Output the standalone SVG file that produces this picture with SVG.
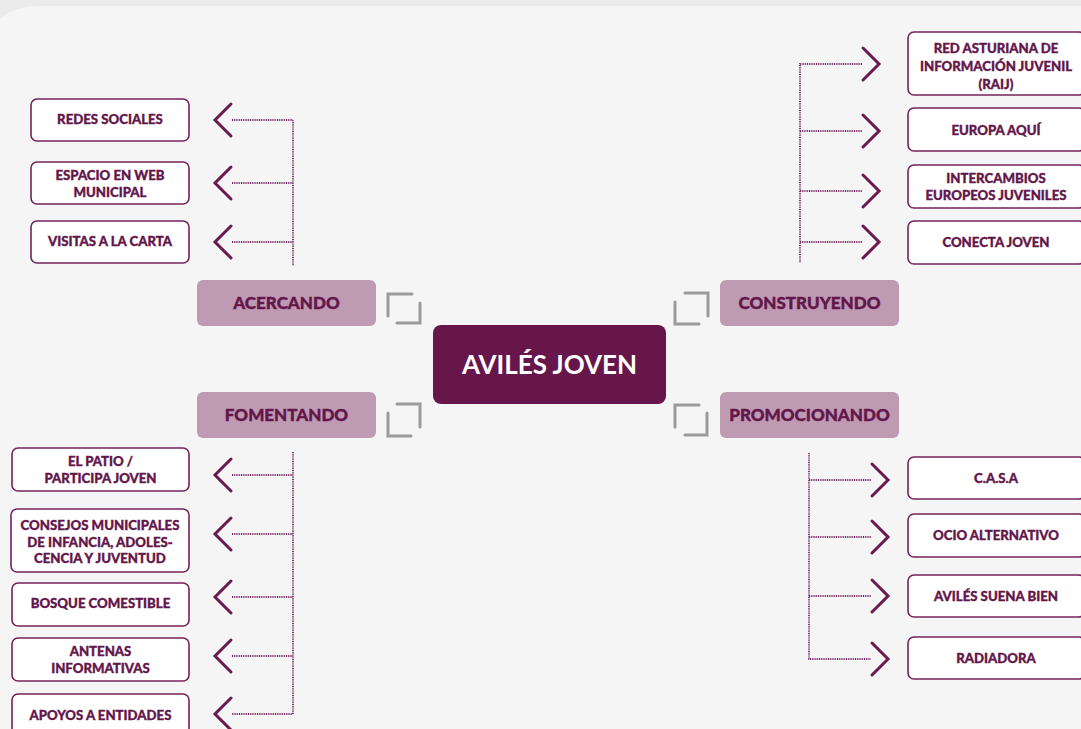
<svg xmlns="http://www.w3.org/2000/svg" width="1081" height="729" viewBox="0 0 1081 729">
<style>
.box{fill:#ffffff;stroke:#74245a;stroke-width:1.6}
.cat{fill:#bf9bb3}
.t{font-family:Lato,"Open Sans","Liberation Sans",sans-serif;font-weight:900;font-size:13.2px;fill:#63164a;stroke:#63164a;stroke-width:0.35;text-anchor:middle}
.ct{font-family:Lato,"Open Sans","Liberation Sans",sans-serif;font-weight:900;font-size:17px;fill:#63164a;stroke:#63164a;stroke-width:0.4;text-anchor:middle}
.mt{font-family:Lato,"Open Sans","Liberation Sans",sans-serif;font-weight:700;font-size:26px;fill:#ffffff;text-anchor:middle}
.chev{fill:none;stroke:#6a1a4f;stroke-width:3;stroke-linecap:round;stroke-linejoin:miter}
.dot{fill:none;stroke:#7a2e66;stroke-width:1.8;stroke-dasharray:1 0.8}
.br{fill:none;stroke:#9b9b9b;stroke-width:3;stroke-linecap:round}
</style>
<rect x="0" y="0" width="1081" height="729" fill="#ebebeb"/>
<rect x="-25" y="6" width="1200" height="800" rx="62" fill="#f5f5f5"/>

<g id="connectors">
  <polyline class="dot" points="232,120 293,120 293,266"/>
  <line class="dot" x1="232" y1="183" x2="293" y2="183"/>
  <line class="dot" x1="232" y1="242" x2="293" y2="242"/>
  <polyline class="chev" points="231,104 215,120 231,136"/>
  <polyline class="chev" points="231,167 215,183 231,199"/>
  <polyline class="chev" points="231,226 215,242 231,258"/>
  <polyline class="dot" points="293,452 293,714 232,714"/>
  <line class="dot" x1="232" y1="475" x2="293" y2="475"/>
  <line class="dot" x1="232" y1="534" x2="293" y2="534"/>
  <line class="dot" x1="232" y1="597" x2="293" y2="597"/>
  <line class="dot" x1="232" y1="656" x2="293" y2="656"/>
  <polyline class="chev" points="231,459 215,475 231,491"/>
  <polyline class="chev" points="231,518 215,534 231,550"/>
  <polyline class="chev" points="231,581 215,597 231,613"/>
  <polyline class="chev" points="231,640 215,656 231,672"/>
  <polyline class="chev" points="231,698 215,714 231,730"/>
  <polyline class="dot" points="862,64 800,64 800,263"/>
  <line class="dot" x1="800" y1="131" x2="862" y2="131"/>
  <line class="dot" x1="800" y1="191" x2="862" y2="191"/>
  <line class="dot" x1="800" y1="242" x2="862" y2="242"/>
  <polyline class="chev" points="863,48 879,64 863,80"/>
  <polyline class="chev" points="863,115 879,131 863,147"/>
  <polyline class="chev" points="863,175 879,191 863,207"/>
  <polyline class="chev" points="863,226 879,242 863,258"/>
  <polyline class="dot" points="809,453 809,659 871,659"/>
  <line class="dot" x1="809" y1="480" x2="871" y2="480"/>
  <line class="dot" x1="809" y1="537" x2="871" y2="537"/>
  <line class="dot" x1="809" y1="596" x2="871" y2="596"/>
  <polyline class="chev" points="872,464 888,480 872,496"/>
  <polyline class="chev" points="872,521 888,537 872,553"/>
  <polyline class="chev" points="872,580 888,596 872,612"/>
  <polyline class="chev" points="872,643 888,659 872,675"/>
  <path class="br" d="M388,316 V294 H412 M420,303 V323 H397"/>
  <path class="br" d="M397,404 H420 V427 M388,413 V436 H411"/>
  <path class="br" d="M685,293 H708 V316 M675,302 V324 H699"/>
  <path class="br" d="M675,427 V405 H699 M707,413 V435 H685"/>
</g>

<g id="center">
  <rect x="433" y="325" width="233" height="79" rx="8" fill="#66164a"/>
  <text class="mt" x="549.5" y="374">AVILÉS JOVEN</text>
</g>

<g id="acercando"><rect class="cat" x="197" y="280" width="179" height="46" rx="6"/><text class="ct" x="286.5" y="309">ACERCANDO</text></g>
<g id="fomentando"><rect class="cat" x="197" y="392" width="179" height="46" rx="6"/><text class="ct" x="286.5" y="421">FOMENTANDO</text></g>
<g id="construyendo"><rect class="cat" x="720" y="280" width="179" height="46" rx="6"/><text class="ct" x="809.5" y="309">CONSTRUYENDO</text></g>
<g id="promocionando"><rect class="cat" x="720" y="392" width="179" height="46" rx="6"/><text class="ct" x="809.5" y="421">PROMOCIONANDO</text></g>

<g id="redes-sociales"><rect class="box" x="31" y="99" width="158" height="42" rx="6"/><text class="t" x="110" y="124">REDES SOCIALES</text></g>
<g id="espacio-web"><rect class="box" x="31" y="162" width="158" height="42" rx="6"/><text class="t" x="110" y="180">ESPACIO EN WEB</text><text class="t" x="110" y="197">MUNICIPAL</text></g>
<g id="visitas"><rect class="box" x="31" y="221" width="158" height="42" rx="6"/><text class="t" x="110" y="246">VISITAS A LA CARTA</text></g>

<g id="el-patio"><rect class="box" x="12" y="448" width="177" height="43" rx="6"/><text class="t" x="100.5" y="466">EL PATIO /</text><text class="t" x="100.5" y="483">PARTICIPA JOVEN</text></g>
<g id="consejos"><rect class="box" x="11" y="509" width="178" height="63" rx="6"/><text class="t" x="100" y="530">CONSEJOS MUNICIPALES</text><text class="t" x="100" y="547">DE INFANCIA, ADOLES-</text><text class="t" x="100" y="563">CENCIA Y JUVENTUD</text></g>
<g id="bosque"><rect class="box" x="12" y="583" width="177" height="43" rx="6"/><text class="t" x="100.5" y="608">BOSQUE COMESTIBLE</text></g>
<g id="antenas"><rect class="box" x="12" y="638" width="177" height="43" rx="6"/><text class="t" x="100.5" y="656">ANTENAS</text><text class="t" x="100.5" y="673">INFORMATIVAS</text></g>
<g id="apoyos"><rect class="box" x="12" y="694" width="177" height="43" rx="6"/><text class="t" x="100.5" y="720">APOYOS A ENTIDADES</text></g>

<g id="raij"><rect class="box" x="908" y="32" width="177" height="63" rx="6"/><text class="t" x="996" y="53">RED ASTURIANA DE</text><text class="t" x="996" y="71">INFORMACIÓN JUVENIL</text><text class="t" x="996" y="89">(RAIJ)</text></g>
<g id="europa-aqui"><rect class="box" x="908" y="108" width="177" height="43" rx="6"/><text class="t" x="996" y="135">EUROPA AQUÍ</text></g>
<g id="intercambios"><rect class="box" x="908" y="165" width="177" height="43" rx="6"/><text class="t" x="996" y="183">INTERCAMBIOS</text><text class="t" x="996" y="200">EUROPEOS JUVENILES</text></g>
<g id="conecta-joven"><rect class="box" x="908" y="221" width="177" height="43" rx="6"/><text class="t" x="996" y="247">CONECTA JOVEN</text></g>

<g id="casa"><rect class="box" x="908" y="457" width="177" height="42" rx="6"/><text class="t" x="996" y="483">C.A.S.A</text></g>
<g id="ocio"><rect class="box" x="908" y="514" width="177" height="43" rx="6"/><text class="t" x="996" y="540">OCIO ALTERNATIVO</text></g>
<g id="suena-bien"><rect class="box" x="908" y="575" width="177" height="42" rx="6"/><text class="t" x="996" y="601">AVILÉS SUENA BIEN</text></g>
<g id="radiadora"><rect class="box" x="908" y="637" width="177" height="42" rx="6"/><text class="t" x="996" y="663">RADIADORA</text></g>
</svg>
